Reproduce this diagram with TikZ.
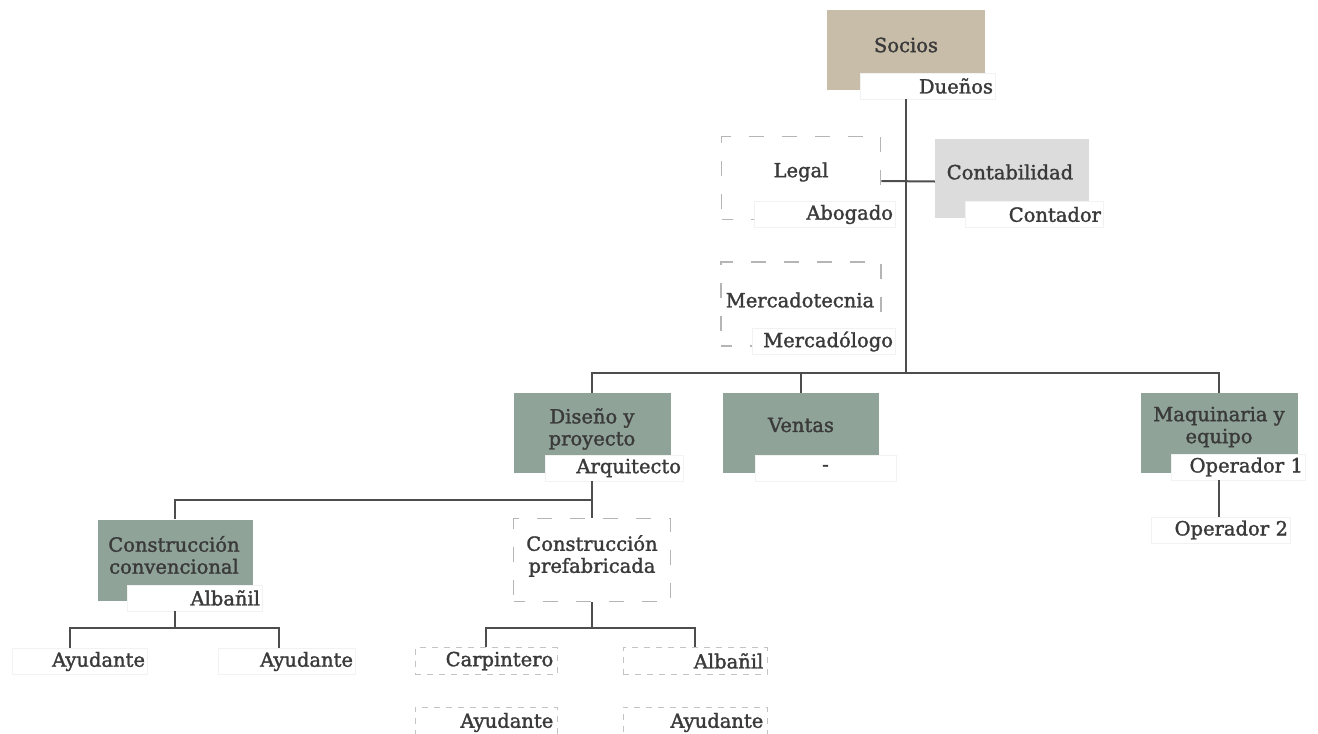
\documentclass[tikz,border=0pt]{standalone}
\usepackage{fontspec}
\setmainfont{DejaVu Serif}[FakeBold=1.6]
\definecolor{txt}{HTML}{3A3A3A}
\definecolor{tan}{HTML}{C8BDA9}
\definecolor{lgrey}{HTML}{DCDCDC}
\definecolor{sage}{HTML}{8FA398}
\definecolor{dashc}{HTML}{B5B5B5}
\definecolor{linec}{HTML}{4D4D4D}
\begin{document}
\begin{tikzpicture}[x=1pt,y=-1pt,
  every node/.style={font=\fontsize{19.5}{22}\selectfont, text=txt},
  box/.style={rectangle, inner sep=0pt, minimum width=157pt, minimum height=80pt},
  bigdash/.style={box, draw=dashc, line width=1.8pt, dash pattern=on 15pt off 18pt, dash phase=4pt},
  smalldash/.style={rectangle, inner sep=0pt, draw=dashc!80, line width=1pt, dash pattern=on 6pt off 6pt, minimum width=142pt},
  lbl/.style={rectangle, fill=white, draw=black!5, line width=0.8pt, inner xsep=2pt, inner ysep=0pt, minimum height=26pt, align=right},
  btxt/.style={align=center, inner sep=0pt},
  conn/.style={draw=linec, line width=2pt}]
\useasboundingbox (0,0) rectangle (1318,734);
\fill[white] (0,0) rectangle (1318,734);

% main boxes
\node[box, fill=tan, minimum width=158pt] (socios) at (906,50) {};
\node[bigdash, minimum width=159pt, minimum height=83pt] (legal) at (801,178) {};
\node[box, fill=lgrey, minimum width=154pt, minimum height=79pt] (cont) at (1012,178.5) {};
\node[bigdash, minimum width=160pt, minimum height=84pt] (merc) at (801,304) {};
\node[box, fill=sage] (dis) at (592,433) {};
\node[box, fill=sage, minimum width=156pt] (ven) at (801,433) {};
\node[box, fill=sage] (maq) at (1219,433) {};
\node[box, fill=sage, minimum width=155pt, minimum height=81pt] (cc) at (175,560) {};
\node[bigdash, minimum height=83pt] (cp) at (592,560) {};
\node[smalldash, minimum height=27pt] (carp) at (486,661) {};
\node[smalldash, minimum width=144pt, minimum height=27pt] (alb2) at (695,661) {};
\node[smalldash, minimum height=29pt] (ay3) at (486,721.5) {};
\node[smalldash, minimum width=144pt, minimum height=29pt] (ay4) at (695,721.5) {};

% box texts
\node[btxt] (socT) at (906,45) {Socios};
\node[btxt] (legT) at (801,172) {Legal};
\node[btxt] (contT) at (1010,172) {Contabilidad};
\node[btxt] (mercT) at (800,300) {Mercadotecnia};
\node[btxt] (disT) at (592,429) {Diseño y\\proyecto};
\node[btxt] (venT) at (801,425) {Ventas};
\node[btxt] (maqT) at (1219,427) {Maquinaria y\\equipo};
\node[btxt] (ccT) at (174,555) {Construcción\\convencional};
\node[btxt] (cpT) at (592,556) {Construcción\\prefabricada};

% label boxes
\node[lbl, text width=131pt] (duenos) at (927.5,86) {Dueños};
\node[lbl, text width=137pt] (abog) at (824.5,214.5) {Abogado};
\node[lbl, text width=134pt] (contador) at (1034,214.5) {Contador};
\node[lbl, text width=139pt] (mlogo) at (823.5,341.5) {Mercadólogo};
\node[lbl, text width=134pt] (arq) at (614,468) {Arquitecto};
\node[lbl, text width=137pt, align=center] (venl) at (825.5,468) {-};
\node[lbl, text width=130pt] (op1) at (1238,467) {Operador 1};
\node[lbl, text width=135pt] (op2) at (1220.5,530) {Operador 2};
\node[lbl, text width=131pt] (alb1) at (194.5,598) {Albañil};
\node[lbl, text width=131pt] (ay1) at (79.5,661.5) {Ayudante};
\node[lbl, text width=133pt] (ay2) at (286.5,661.5) {Ayudante};
\node[btxt, anchor=east] (carpT) at ([xshift=-4pt]carp.east) {Carpintero};
\node[btxt, anchor=east] (alb2T) at ([xshift=-4pt]alb2.east) {Albañil};
\node[btxt, anchor=east] (ay3T) at ([xshift=-4pt,yshift=-1pt]ay3.east) {Ayudante};
\node[btxt, anchor=east] (ay4T) at ([xshift=-4pt,yshift=-1pt]ay4.east) {Ayudante};

% junctions
\coordinate (j1) at (906,373);
\coordinate (j2) at (592,500);
\coordinate (j3) at (175,628);
\coordinate (j4) at (592,628);

% connectors
\draw[conn] (socios.south |- duenos.south) -- (j1);
\draw[conn] (dis.north) |- (maq.north |- j1) -- (maq.north);
\draw[conn] (ven.north) -- (ven.north |- j1);
\draw[conn] ([yshift=-3pt]legal.east) -- ([yshift=-3pt]cont.west);
\draw[conn] (dis.south |- arq.south) -- (cp.north);
\draw[conn] (cc.north) |- (j2);
\draw[conn] (maq.south |- op1.south) -- (maq.south |- op2.north);
\draw[conn] (cc.south |- alb1.south) -- (j3);
\draw[conn] ([xshift=-10pt]ay1.north) |- (j3) -| ([xshift=-8pt]ay2.north);
\draw[conn] (cp.south) -- (j4);
\draw[conn] (carp.north) |- (j4) -| (alb2.north);
\end{tikzpicture}
\end{document}
